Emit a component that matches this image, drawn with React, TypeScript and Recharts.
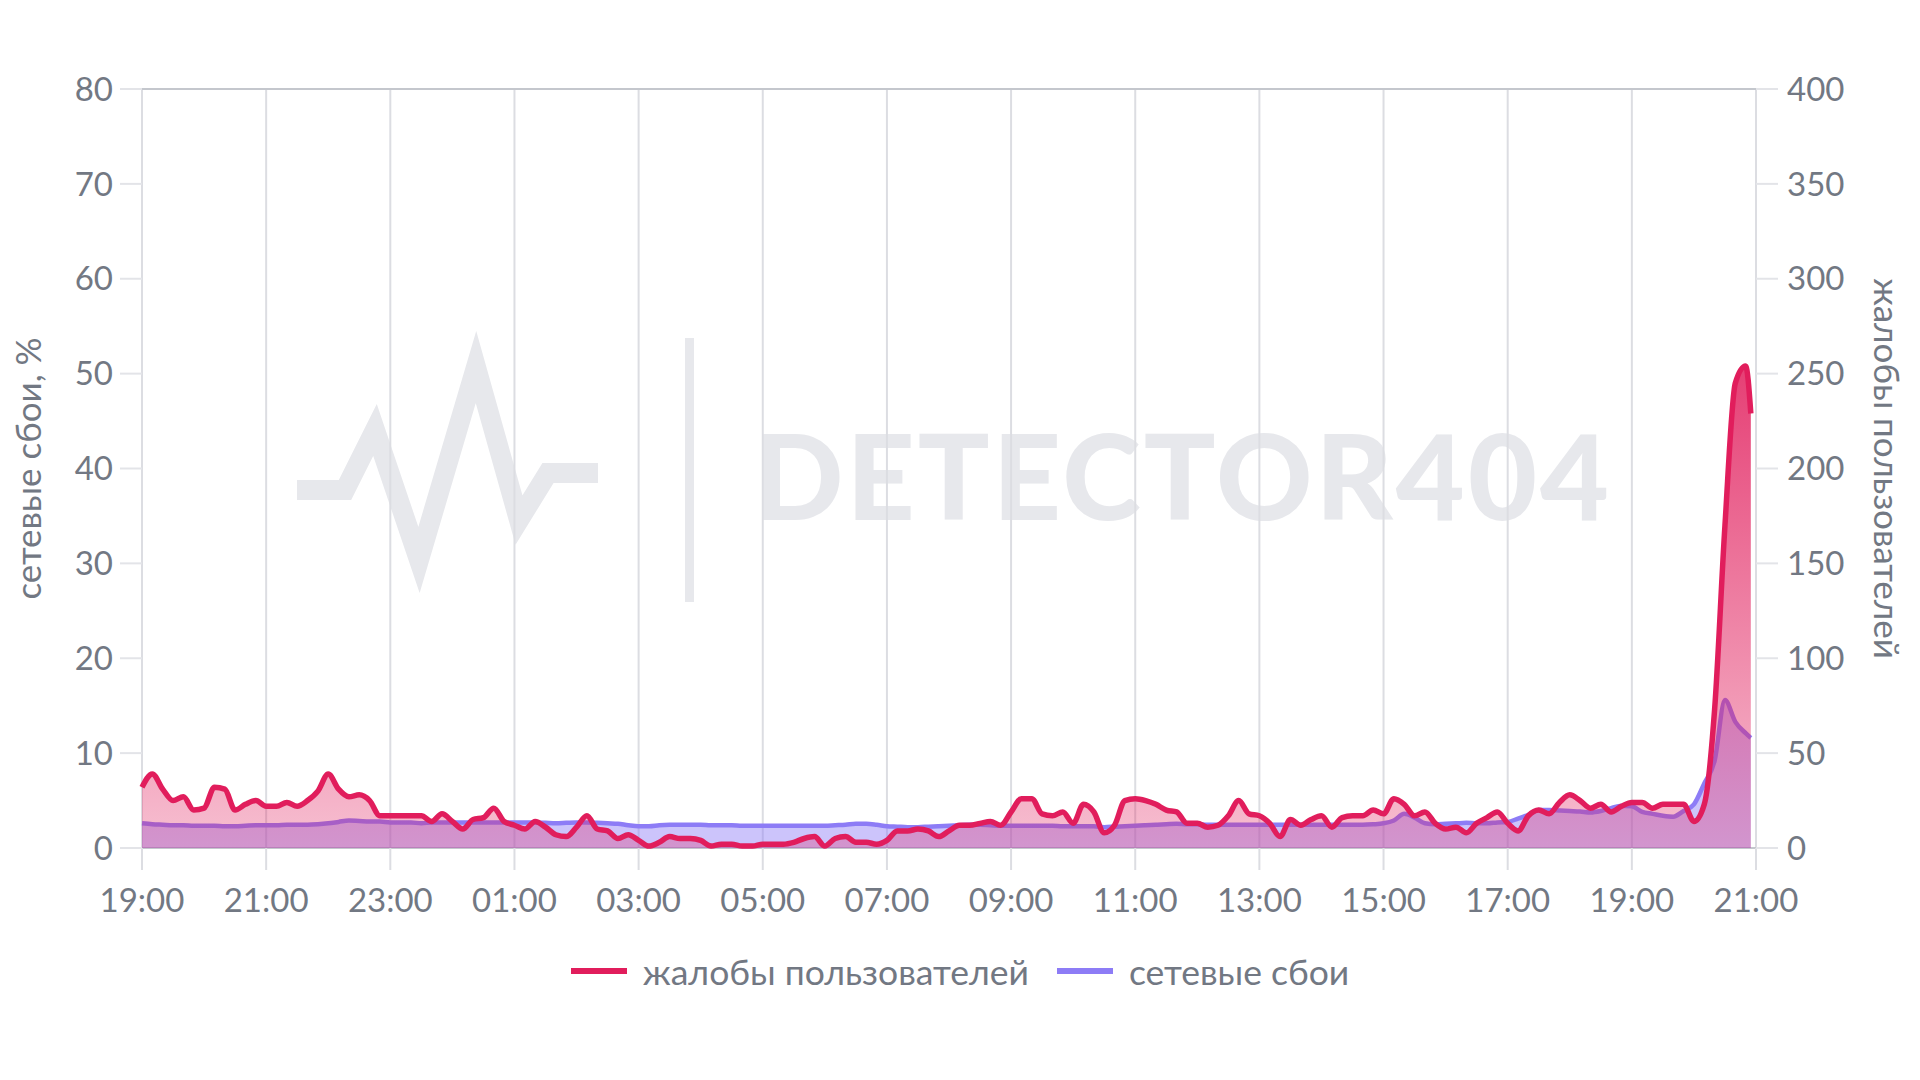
import { AreaChart, Area, XAxis, YAxis, CartesianGrid, Legend } from 'recharts';

// minutes since 19:00, one point every 10 minutes, last point at 20:55 next day
const minutes = [...Array.from({ length: 156 }, (_, i) => i * 10), 1555];

// жалобы пользователей (right axis, 0..400)
const complaints = [
  32, 39, 31, 25, 27, 20, 21, 32, 31, 20,
  23, 25, 22, 22, 24, 22, 25, 30, 39, 31,
  27, 28, 25, 17, 17, 17, 17, 17, 14, 18,
  14, 10, 15, 16, 21, 14, 12, 10, 14, 11,
  7, 6, 11, 17, 10, 9, 5, 7, 4, 1,
  3, 6, 5, 5, 4, 1, 2, 2, 1, 1,
  2, 2, 2, 3, 5, 6, 1, 5, 6, 3,
  3, 2, 4, 9, 9, 10, 9, 6, 9, 12,
  12, 13, 14, 12, 19, 26, 26, 18, 17, 19,
  13, 23, 19, 8, 12, 25, 26, 25, 23, 20,
  19, 13, 13, 11, 12, 17, 25, 18, 17, 13,
  6, 15, 12, 15, 17, 11, 16, 17, 17, 20,
  18, 26, 23, 17, 19, 13, 10, 11, 8, 13,
  16, 19, 13, 9, 17, 20, 18, 24, 28, 25,
  21, 23, 19, 22, 24, 24, 21, 23, 23, 23,
  14, 23, 73, 170, 245, 254, 229,
];

// сетевые сбои, % (left axis, 0..80)
const failures = [
  2.6, 2.5, 2.45, 2.4, 2.4, 2.35, 2.35, 2.35, 2.3, 2.3,
  2.35, 2.4, 2.4, 2.4, 2.45, 2.45, 2.45, 2.5, 2.6, 2.75,
  2.9, 2.85, 2.8, 2.8, 2.7, 2.7, 2.7, 2.6, 2.7, 2.7,
  2.7, 2.7, 2.7, 2.7, 2.7, 2.7, 2.7, 2.7, 2.7, 2.65,
  2.6, 2.65, 2.7, 2.7, 2.65, 2.6, 2.55, 2.4, 2.3, 2.3,
  2.4, 2.45, 2.45, 2.45, 2.45, 2.4, 2.4, 2.4, 2.35, 2.35,
  2.35, 2.35, 2.35, 2.35, 2.35, 2.35, 2.35, 2.4, 2.45, 2.55,
  2.55, 2.45, 2.3, 2.25, 2.2, 2.2, 2.25, 2.3, 2.35, 2.4,
  2.45, 2.45, 2.4, 2.35, 2.35, 2.35, 2.35, 2.35, 2.35, 2.3,
  2.3, 2.3, 2.3, 2.2, 2.25, 2.3, 2.35, 2.4, 2.45, 2.5,
  2.55, 2.5, 2.5, 2.45, 2.45, 2.45, 2.45, 2.45, 2.45, 2.45,
  2.45, 2.45, 2.45, 2.45, 2.45, 2.45, 2.45, 2.45, 2.45, 2.5,
  2.6, 2.9, 3.6, 3.2, 2.6, 2.5, 2.55, 2.6, 2.65, 2.6,
  2.6, 2.7, 2.75, 3.1, 3.5, 4.0, 4.0, 3.95, 3.9, 3.85,
  3.75, 3.9, 4.2, 4.45, 4.4, 3.8, 3.6, 3.4, 3.3, 3.9,
  4.6, 6.8, 9.2, 15.6, 13.3, 12.1, 11.6,
];

const xTicks = [0, 120, 240, 360, 480, 600, 720, 840, 960, 1080, 1200, 1320, 1440, 1560];
const xTickLabels = [
  '19:00', '21:00', '23:00', '01:00', '03:00', '05:00', '07:00',
  '09:00', '11:00', '13:00', '15:00', '17:00', '19:00', '21:00',
];
const leftTicks = [0, 10, 20, 30, 40, 50, 60, 70, 80];
const rightTicks = [0, 50, 100, 150, 200, 250, 300, 350, 400];

const legendOrder = ['complaints', 'failures'];

const data = minutes.map((m, i) => ({
  m,
  complaints: complaints[i],
  failures: failures[i],
}));

const RED = '#e11d5c';
const PURPLE = '#8d7cf6';
const TEXT = '#727883';
const FONT = "Lato, 'Open Sans', sans-serif";

const tickStyle = { fontSize: 33, fill: TEXT, fontFamily: FONT };
const axisTitleStyle = { textAnchor: 'middle', fontSize: 35, fill: TEXT, fontFamily: FONT };

function ChartLegend({ payload }: { payload?: Array<{ value: string; color: string; dataKey: string }> }) {
  const items = [...(payload ?? [])].sort(
    (a, b) => legendOrder.indexOf(a.dataKey) - legendOrder.indexOf(b.dataKey),
  );
  return (
    <div
      style={{
        height: 50,
        display: 'flex',
        justifyContent: 'center',
        alignItems: 'center',
        gap: 28,
        fontFamily: FONT,
        fontSize: 35.5,
        color: TEXT,
      }}
    >
      {items.map((item) => (
        <div key={item.dataKey} style={{ display: 'flex', alignItems: 'center', gap: 16 }}>
          <span style={{ width: 56, height: 6, background: item.color, display: 'inline-block' }} />
          <span>{item.value}</span>
        </div>
      ))}
    </div>
  );
}

function Watermark() {
  return (
    <svg width={1920} height={1080} style={{ position: 'absolute', left: 0, top: 0 }}>
      <polyline
        points="297,490 345,490 375,430 419,560 476,367 519,520 548,473 598,473"
        fill="none"
        stroke="#e7e8ec"
        strokeWidth={20}
        strokeLinejoin="miter"
      />
      <rect x={685} y={338} width={9} height={264} fill="#e7e8ec" />
      <text
        x={753}
        y={520}
        fontFamily={FONT}
        fontWeight={900}
        fontSize={119}
        letterSpacing={3}
        fill="#e7e8ec"
      >
        DETECTOR404
      </text>
    </svg>
  );
}

export default function App() {
  return (
    <div style={{ position: 'absolute', left: 0, top: 0, width: 1920, height: 1080, background: '#fff' }}>
      <Watermark />
      <AreaChart
        width={1920}
        height={1080}
        data={data}
        margin={{ top: 89, right: 0, bottom: 0, left: 0 }}
        style={{ position: 'relative' }}
      >
        <defs>
          <linearGradient id="redFill" x1="0" y1="0" x2="0" y2="1">
            <stop offset="0%" stopColor={RED} stopOpacity={0.85} />
            <stop offset="100%" stopColor={RED} stopOpacity={0.28} />
          </linearGradient>
        </defs>
        <CartesianGrid horizontal={false} stroke="#dcdde2" strokeWidth={2} />
        <CartesianGrid vertical={false} stroke="#c4c7cd" strokeWidth={2} />
        <XAxis
          dataKey="m"
          type="number"
          domain={[0, 1560]}
          ticks={xTicks}
          tickFormatter={(v: number) => xTickLabels[xTicks.indexOf(v)]}
          axisLine={false}
          tickLine={{ stroke: '#dcdde2', strokeWidth: 2 }}
          tickSize={22}
          tickMargin={19}
          tick={tickStyle}
          height={182}
          interval={0}
        />
        <YAxis
          yAxisId="left"
          orientation="left"
          domain={[0, 80]}
          ticks={leftTicks}
          axisLine={false}
          tickLine={{ stroke: '#e3e4e8', strokeWidth: 2 }}
          tickSize={22}
          tickMargin={7}
          tick={tickStyle}
          width={142}
          label={{
            value: 'сетевые сбои, %',
            angle: -90,
            position: 'insideLeft',
            offset: 29,
            style: axisTitleStyle,
          }}
        />
        <YAxis
          yAxisId="right"
          orientation="right"
          domain={[0, 400]}
          ticks={rightTicks}
          axisLine={false}
          tickLine={{ stroke: '#e3e4e8', strokeWidth: 2 }}
          tickSize={22}
          tickMargin={9}
          tick={tickStyle}
          width={164}
          label={{
            value: 'жалобы пользователей',
            angle: 90,
            position: 'insideRight',
            offset: 34,
            style: axisTitleStyle,
          }}
        />
        <Legend
          verticalAlign="bottom"
          content={<ChartLegend />}
          wrapperStyle={{ top: 946, left: 0, width: 1920 }}
        />
        <Area
          yAxisId="left"
          dataKey="failures"
          name="сетевые сбои"
          type="monotone"
          stroke={PURPLE}
          strokeWidth={4.5}
          fill={PURPLE}
          fillOpacity={0.45}
          dot={false}
          activeDot={false}
          isAnimationActive={false}
        />
        <Area
          yAxisId="right"
          dataKey="complaints"
          name="жалобы пользователей"
          type="monotone"
          stroke={RED}
          strokeWidth={5.5}
          fill="url(#redFill)"
          fillOpacity={1}
          dot={false}
          activeDot={false}
          isAnimationActive={false}
        />
      </AreaChart>
    </div>
  );
}
